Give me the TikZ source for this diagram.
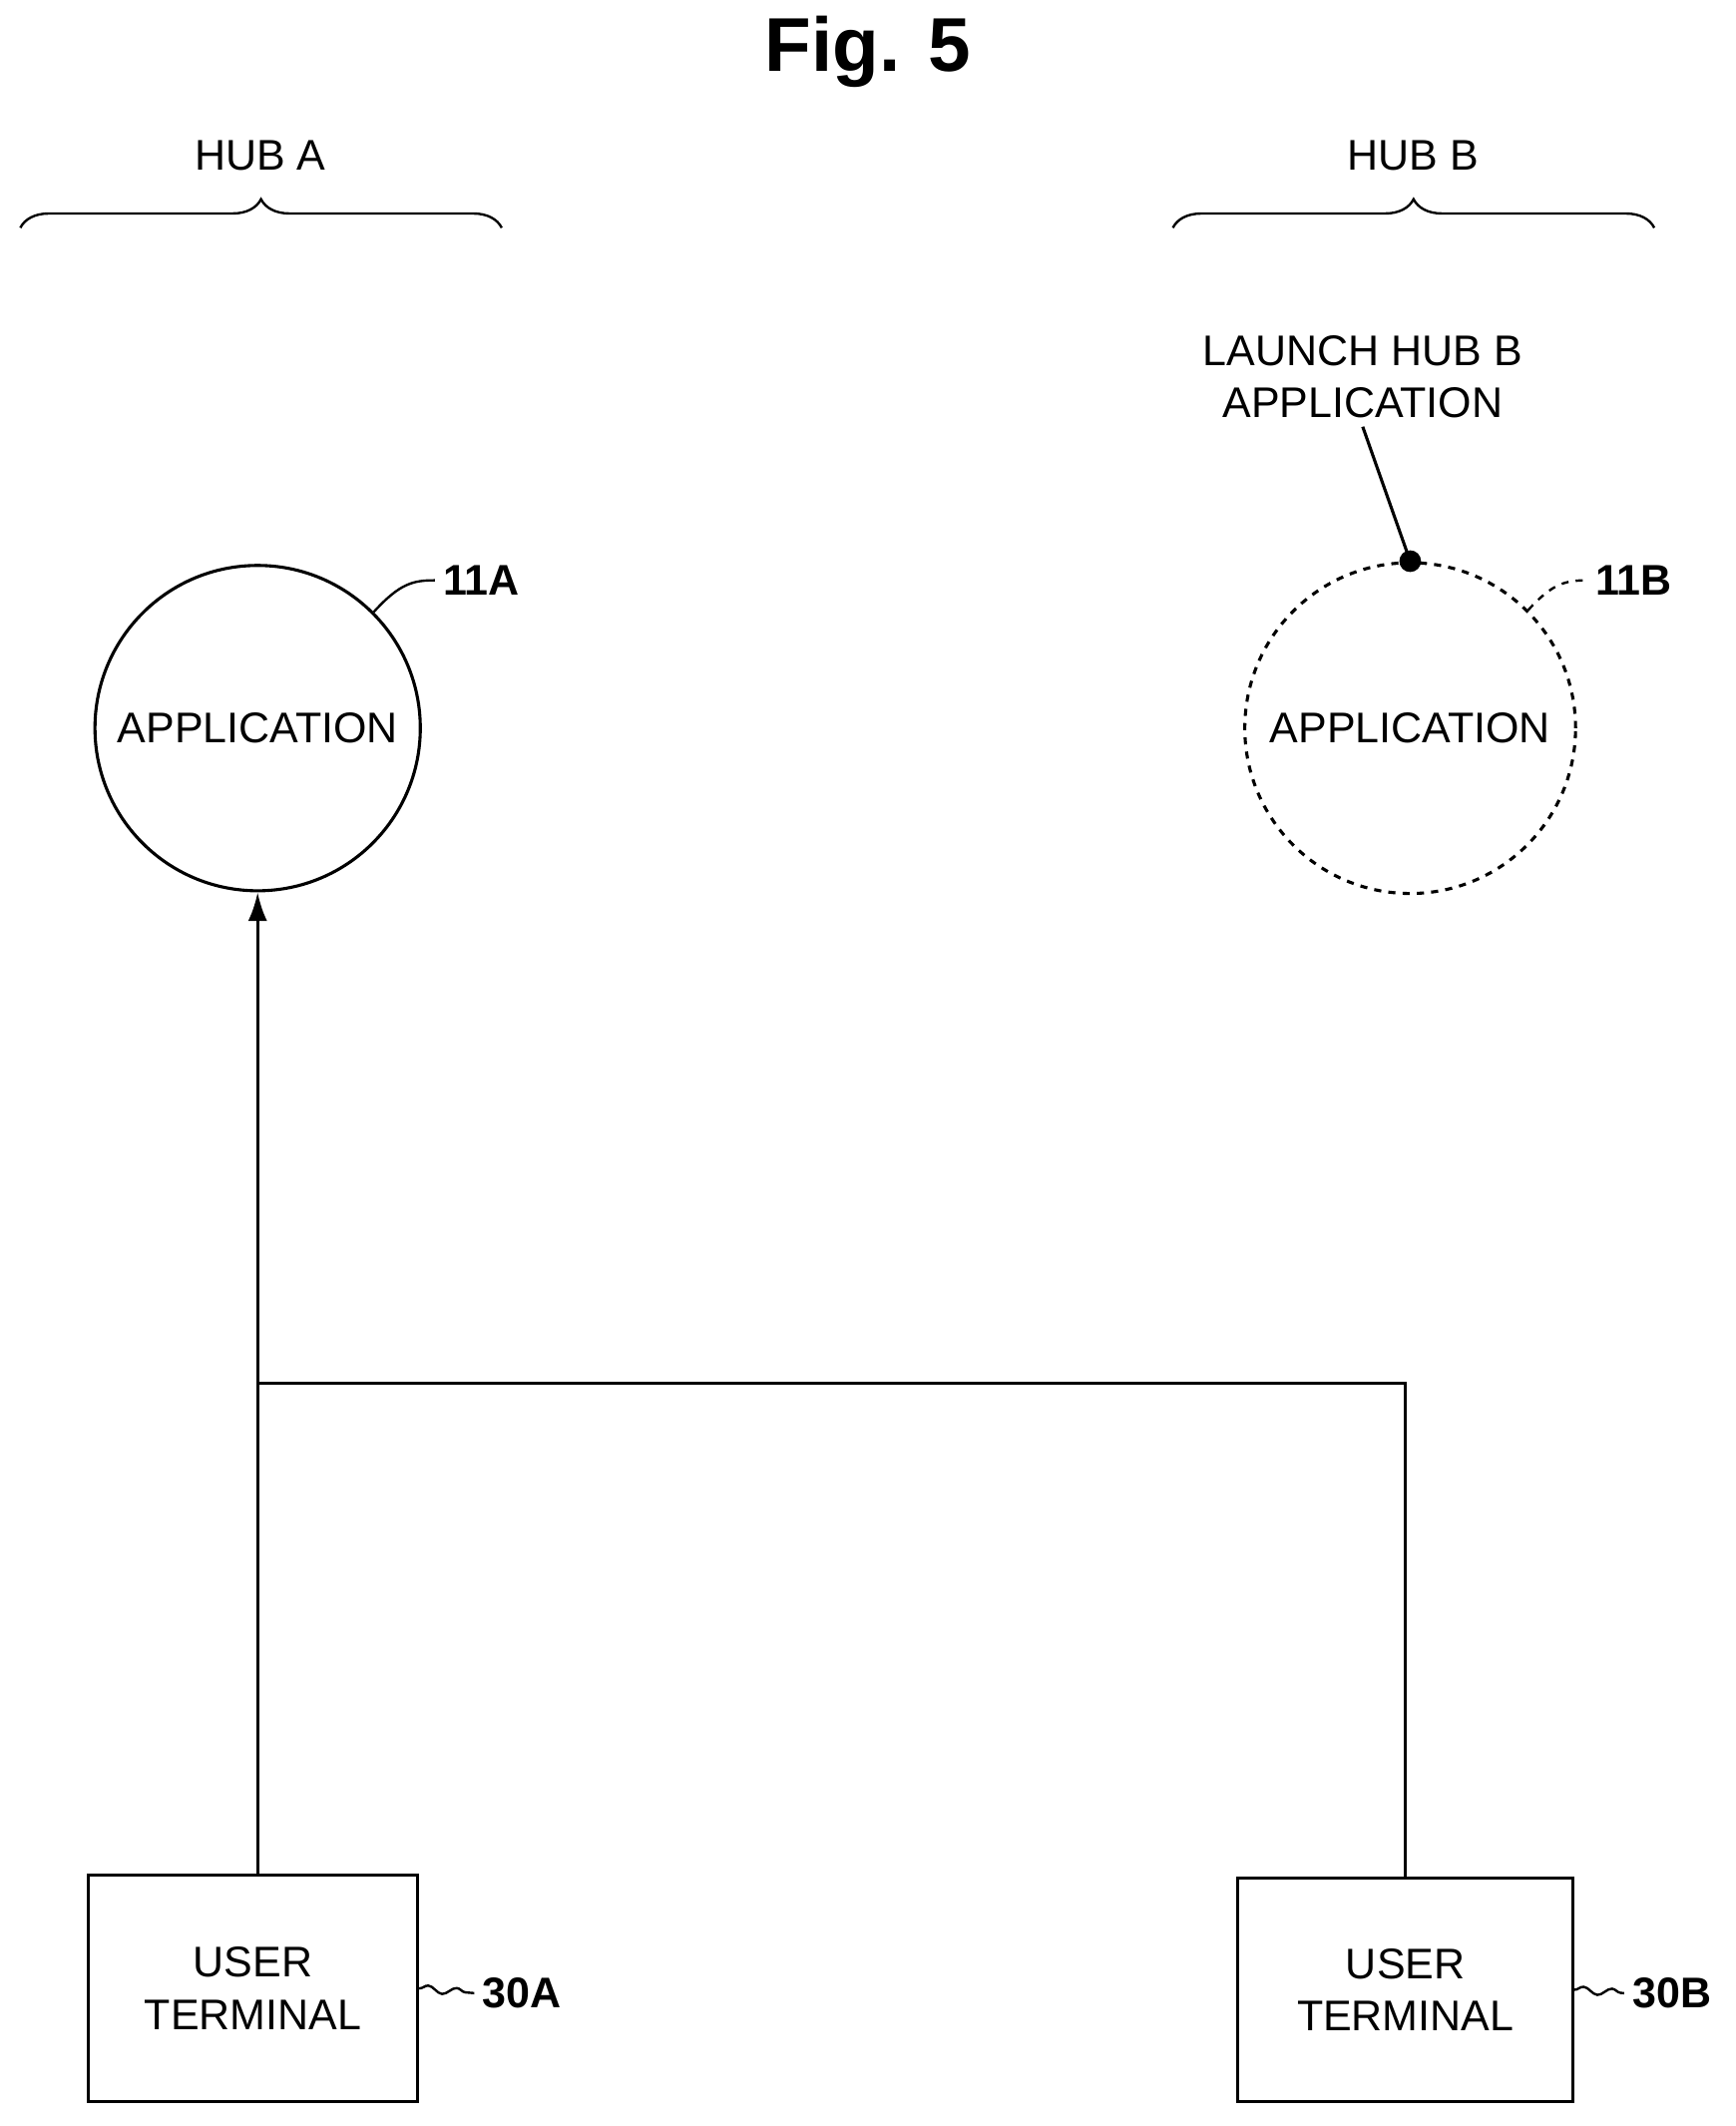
\documentclass[tikz,border=0pt]{standalone}
\usepackage{fontspec}
\setmainfont{Liberation Sans}
\usetikzlibrary{decorations.pathreplacing,decorations.pathmorphing,arrows.meta}
\begin{document}
\begin{tikzpicture}[x=0.02cm,y=-0.02cm,
  txt/.style={font=\fontsize{18}{22}\selectfont,align=center},
  ref/.style={font=\fontsize{18}{22}\selectfont\bfseries},
  ln/.style={line width=1.3pt},
  sq/.style={line width=1pt,decorate,decoration={snake,amplitude=1.5pt,segment length=12pt}},
  br/.style={line width=1pt,decorate,decoration={brace,amplitude=12pt}}]
\useasboundingbox (0,0) rectangle (1280,1568);
\node[font=\fontsize{32}{38}\selectfont\bfseries] (title) at (640,38) {Fig. 5};
\node[txt] (huba) at (192,115) {HUB A};
\node[txt] (hubb) at (1042,115) {HUB B};
\draw[br] (15,168) -- (370,168);
\draw[br] (865,168) -- (1220,168);
\node[draw,circle,minimum size=240\pgflinewidth,inner sep=0,line width=1.3pt,minimum size=4.8cm] (a11) at (190,537) {};
\node[txt] at (190,537) {APPLICATION};
\node[draw,circle,dashed,inner sep=0,line width=1.3pt,minimum size=4.88cm] (b11) at (1040,537) {};
\node[txt] at (1040,537) {APPLICATION};
\node[ref] (l11a) at (355,428) {11A};
\node[ref] (l11b) at (1205,428) {11B};
\draw[line width=1pt] (a11.45) .. controls (295,430) and (305,428) .. (l11a.west);
\draw[line width=1pt,dashed] (b11.45) .. controls (1145,430) and (1155,428) .. (l11b.west);
\node[txt] (launch) at (1005,278) {LAUNCH HUB B\\APPLICATION};
\fill (b11.north) circle (8);
\draw[ln] (b11.north) -- (launch.south);
\node[draw,ln,minimum width=4.86cm,minimum height=3.34cm,txt] (ta) at (186.5,1466.5) {USER\\TERMINAL};
\node[draw,ln,minimum width=4.94cm,minimum height=3.3cm,txt] (tb) at (1036.5,1467.5) {USER\\TERMINAL};
\node[ref] (l30a) at (385,1470) {30A};
\node[ref] (l30b) at (1233,1470) {30B};
\draw[sq] (ta.east) -- (l30a.west);
\draw[sq] (tb.east) -- (l30b.west);
\coordinate (j) at (190,1020);
\draw[ln,-{Latex[length=12pt,width=8pt]}] (ta.north -| a11.south) -- (a11.south);
\draw[ln] (j) -- (tb.north |- j) -- (tb.north);
\end{tikzpicture}
\end{document}
